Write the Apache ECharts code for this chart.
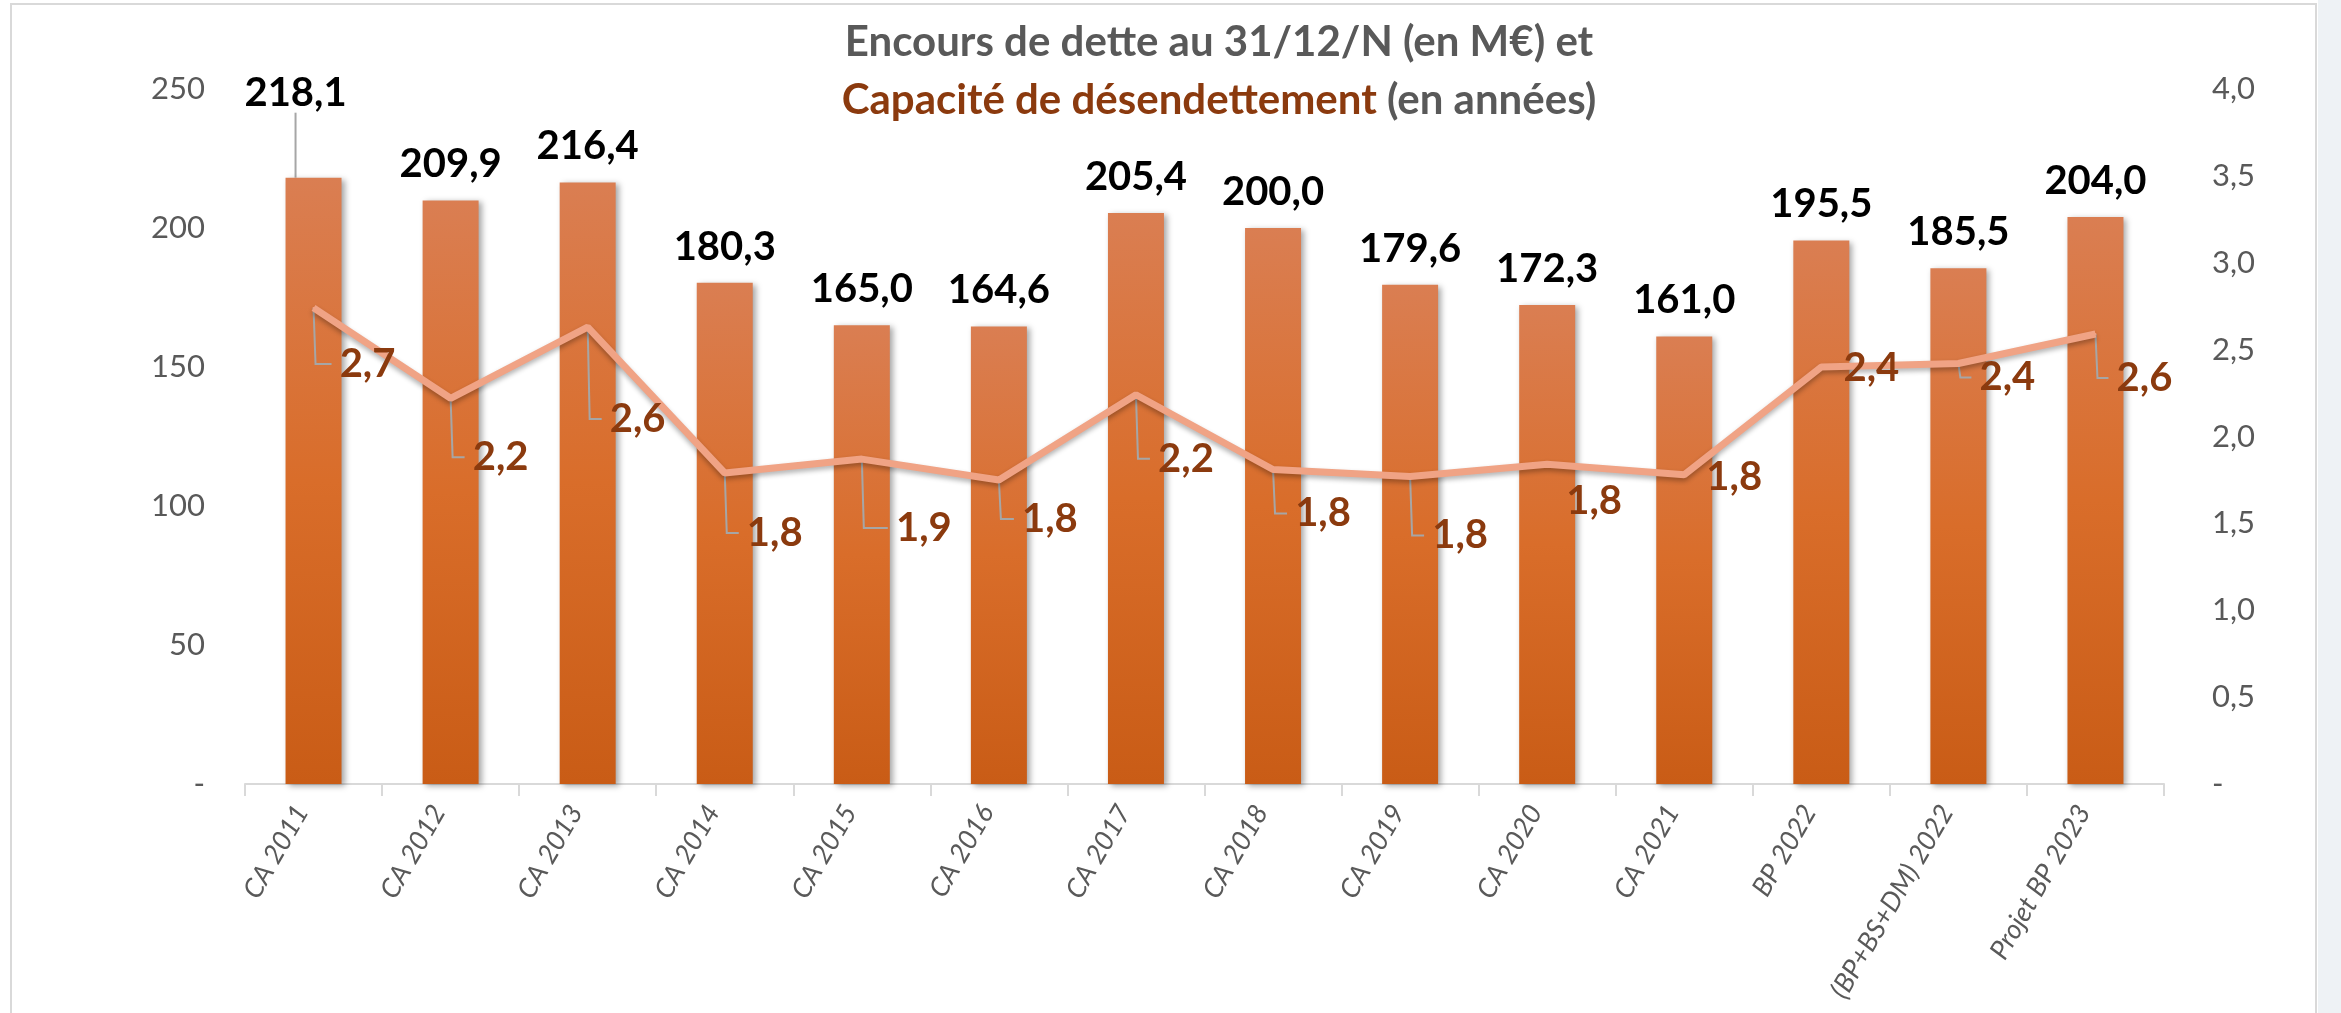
<!DOCTYPE html>
<html>
<head>
<meta charset="utf-8">
<title>Encours de dette</title>
<script src="https://cdn.jsdelivr.net/npm/echarts@6/dist/echarts.min.js"></script>
<style>
  html, body { margin: 0; padding: 0; background: #ffffff; }
  #chart { width: 2341px; height: 1013px; }
</style>
</head>
<body>
<div id="chart"></div>
<script>
let d = document;

// categories (x axis)
let annees = ["CA 2011", "CA 2012", "CA 2013", "CA 2014", "CA 2015", "CA 2016", "CA 2017",
  "CA 2018", "CA 2019", "CA 2020", "CA 2021", "BP 2022", "(BP+BS+DM) 2022", "Projet BP 2023"];

// encours de dette en M€ (barres)
let encours = [218.1, 209.9, 216.4, 180.3, 165.0, 164.6, 205.4, 200.0, 179.6, 172.3, 161.0, 195.5, 185.5, 204.0];

// capacite de desendettement en annees (ligne)
let capacite = [2.74, 2.22, 2.63, 1.79, 1.87, 1.75, 2.24, 1.81, 1.77, 1.84, 1.78, 2.40, 2.42, 2.59];

// ticks
let ticksGauche = [0, 50, 100, 150, 200, 250];
let ticksDroite = [0, 0.5, 1, 1.5, 2, 2.5, 3, 3.5, 4];

// decalage des etiquettes de la ligne (style, pas des donnees)
let decalX = [54, 50, 50, 50, 62, 51, 50, 50, 50, 47, 50, 50, 49, 49];
let decalY = [56, 59, 92, 60, 69, 39, 64, 44, 59, 37, 2, 1, 14, 44];
let avecTrait = [true, true, true, true, true, true, true, true, true, false, false, false, true, true];

let virgule = (v, n) => v.toFixed(n).replace(".", ",");

window.onload = (e) => {
  let chart = echarts.init(d.getElementById("chart"));

  let barres = encours.map((v, i) => {
    if (i === 0) {
      return { value: v, labelLine: { show: true } };
    }
    return { value: v, labelLine: { show: false } };
  });

  // traits de rappel en coude (Excel) pour les etiquettes de la ligne
  let traits = capacite.map((v, i) => [i, v]);

  chart.setOption({
    animation: false,
    textStyle: { fontFamily: "Lato" },
    title: {
      left: 1219,
      top: 13,
      padding: 0,
      textAlign: "center",
      text: "{a|Encours de dette au 31/12/N (en M€) et}\n{b|Capacité de désendettement}{a|\u00a0(en années)}",
      textStyle: {
        rich: {
          a: { fontFamily: "Lato", fontSize: 42, fontWeight: "bold", color: "#595959", lineHeight: 58 },
          b: { fontFamily: "Lato", fontSize: 42, fontWeight: "bold", color: "#8B3A0E", lineHeight: 58 }
        }
      }
    },
    graphic: [
      { type: "rect", shape: { x: 11, y: 4, width: 2305, height: 1020 }, style: { fill: "none", stroke: "#D9D9D9", lineWidth: 2 }, z: -10 },
      { type: "rect", shape: { x: 2318, y: 0, width: 30, height: 1013 }, style: { fill: "#EEF2F5" }, z: -10 }
    ],
    grid: { left: 245, right: 177, top: 89, bottom: 229 },
    xAxis: {
      type: "category",
      data: annees,
      axisLine: { lineStyle: { color: "#D9D9D9", width: 2 } },
      axisTick: { show: true, length: 12, lineStyle: { color: "#D9D9D9", width: 2 } },
      axisLabel: {
        rotate: 60,
        interval: 0,
        margin: 30,
        fontSize: 27,
        fontStyle: "italic",
        color: "#595959",
        verticalAlign: "bottom"
      }
    },
    yAxis: [
      {
        type: "value",
        min: ticksGauche[0],
        max: ticksGauche[ticksGauche.length - 1],
        interval: 50,
        splitLine: { show: false },
        axisLine: { show: false },
        axisTick: { show: false },
        axisLabel: {
          margin: 40,
          fontSize: 31,
          color: "#595959",
          formatter: (v) => (v === 0 ? "-" : String(v))
        }
      },
      {
        type: "value",
        min: ticksDroite[0],
        max: ticksDroite[ticksDroite.length - 1],
        interval: 0.5,
        splitLine: { show: false },
        axisLine: { show: false },
        axisTick: { show: false },
        axisLabel: {
          margin: 48,
          fontSize: 31,
          color: "#595959",
          formatter: (v) => (v === 0 ? "-" : virgule(v, 1))
        }
      }
    ],
    series: [
      {
        name: "Encours",
        type: "bar",
        data: barres,
        barWidth: 56,
        itemStyle: {
          color: new echarts.graphic.LinearGradient(0, 0, 0, 1, [
            { offset: 0, color: "#DA7E52" },
            { offset: 0.5, color: "#D96D2A" },
            { offset: 1, color: "#C95C16" }
          ]),
          shadowColor: "rgba(0,0,0,0.35)",
          shadowBlur: 6,
          shadowOffsetX: 3,
          shadowOffsetY: 2
        },
        label: {
          show: true,
          position: "top",
          distance: 16,
          fontFamily: "Lato",
          fontSize: 40,
          fontWeight: "bold",
          color: "#000000",
          formatter: (p) => virgule(p.value, 1)
        },
        labelLine: { lineStyle: { color: "#A6A6A6", width: 2 } },
        labelLayout: (p) => {
          if (p.dataIndex === 0) {
            return { dx: -18, dy: -49 };
          }
          return {};
        }
      },
      {
        name: "Capacité",
        type: "line",
        yAxisIndex: 1,
        data: capacite,
        symbol: "circle",
        symbolSize: 2,
        itemStyle: { color: "#F0A385" },
        lineStyle: {
          color: "#F0A385",
          width: 7,
          shadowColor: "rgba(0,0,0,0.3)",
          shadowBlur: 5,
          shadowOffsetY: 3
        },
        label: {
          show: true,
          position: "inside",
          fontFamily: "Lato",
          fontSize: 40,
          fontWeight: "bold",
          color: "#8B3A0E",
          formatter: (p) => virgule(p.value, 1)
        },
        labelLayout: (p) => {
          return { dx: decalX[p.dataIndex], dy: decalY[p.dataIndex] };
        },
        z: 5
      },
      {
        name: "traits",
        type: "custom",
        yAxisIndex: 1,
        data: traits,
        silent: true,
        z: 4,
        renderItem: (params, api) => {
          let i = params.dataIndex;
          if (!avecTrait[i]) {
            return null;
          }
          let pt = api.coord([api.value(0), api.value(1)]);
          let yb = pt[1] + decalY[i];
          let xe = pt[0] + decalX[i] - 36;
          return {
            type: "polyline",
            shape: { points: [[pt[0], pt[1]], [pt[0] + 2, yb], [Math.max(xe, pt[0] + 8), yb]] },
            style: { stroke: "#A6A6A6", lineWidth: 2, fill: null }
          };
        }
      }
    ]
  });
};
</script>
</body>
</html>
